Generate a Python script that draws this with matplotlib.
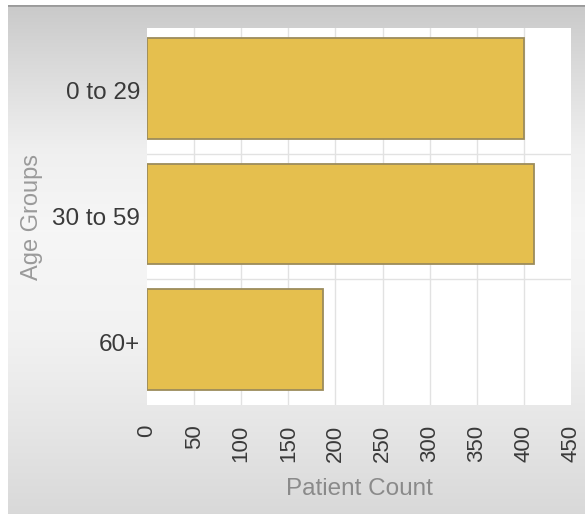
import numpy as np
import matplotlib
matplotlib.use("Agg")
import matplotlib.pyplot as plt

plt.rcParams["font.family"] = ["Liberation Sans", "DejaVu Sans"]

age_groups = ["0 to 29", "30 to 59", "60+"]
patient_counts = [400, 411, 187]
x_ticks = [0, 50, 100, 150, 200, 250, 300, 350, 400, 450]

W, H = 585, 514
fig = plt.figure(figsize=(W / 100, H / 100), dpi=100)
fig.patch.set_facecolor("white")

# panel background: grey vertical gradient with a darker top rule
bg = fig.add_axes([8 / W, 0, 1 - 8 / W, 1 - 5 / H])
bg.set_axis_off()
rows = np.arange(5, H)
shade = np.interp(rows, [5, 60, 150, 230, 330, 420, 514],
                  [0.79, 0.85, 0.94, 0.965, 0.95, 0.905, 0.85])
grad = np.repeat(shade[:, None], 2, axis=1)
bg.imshow(np.dstack([grad, grad, grad]), aspect="auto", extent=[0, 1, 0, 1])
bg.axhline(1, color="#9a9a9a", lw=2)
bg.set_xlim(0, 1)
bg.set_ylim(0, 1)

ax = fig.add_axes([147 / W, 1 - 405 / H, (571 - 147) / W, (405 - 28) / H])
ax.set_facecolor("white")

y = np.arange(len(age_groups))
ax.barh(y - 0.02, patient_counts, height=0.8, color="#E5BF4E",
        edgecolor="#9c8c5c", linewidth=1.3, zorder=3)

ax.set_xlim(0, 450)
ax.set_ylim(len(age_groups) - 0.5, -0.5)
ax.set_xticks(x_ticks)
ax.set_xticklabels([str(t) for t in x_ticks], rotation=90, va="top", ha="center")
ax.set_yticks(y)
ax.set_yticklabels(age_groups)
ax.tick_params(axis="x", length=0, pad=14, labelsize=16, labelcolor="#3a3a3a")
ax.tick_params(axis="y", length=0, pad=5, labelsize=17.5, labelcolor="#3a3a3a")

for v in x_ticks[1:-1]:
    ax.axvline(v, color="#e2e2e2", lw=1, zorder=1)
for b in [0.5, 1.5]:
    ax.axhline(b, color="#e2e2e2", lw=1, zorder=1)

for s in ax.spines.values():
    s.set_visible(False)

ax.set_xlabel("Patient Count", fontsize=17.5, color="#8a8a8a", labelpad=12)
ax.set_ylabel("Age Groups", fontsize=17, color="#9a9a9a", labelpad=0)
ax.yaxis.set_label_coords(-104 / (571 - 147), 0.5)

fig.savefig("out.png", dpi=100)
